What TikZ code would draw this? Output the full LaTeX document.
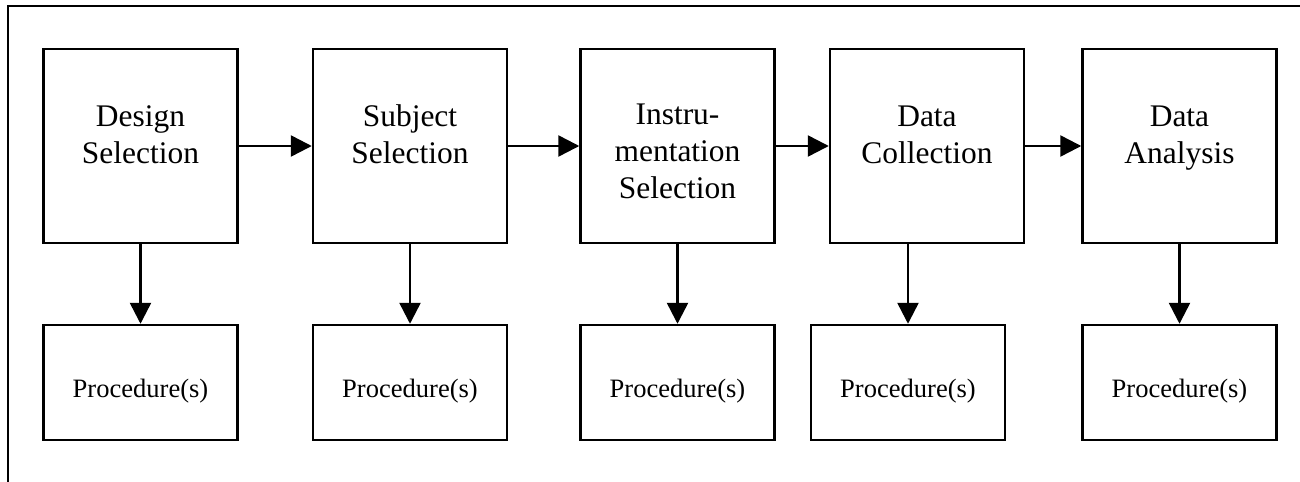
\documentclass[tikz,border=0pt]{standalone}
\usepackage{fontspec}
\setmainfont{Liberation Serif}
\usetikzlibrary{arrows.meta}

\begin{document}
\begin{tikzpicture}[
		stagebox/.style={draw, line width=1.4pt, minimum width=3.88cm, minimum height=3.88cm, inner sep=0pt},
		stagetext/.style={align=center, inner sep=0pt, anchor=base, font=\fontsize{17.9}{21}\selectfont},
		procbox/.style={draw, line width=1.4pt, minimum width=3.88cm, minimum height=2.3cm, inner sep=0pt,
			text height=0.58cm, text depth=0pt, font=\fontsize{15.1}{18}\selectfont},
		flow/.style={line width=1.4pt, -{Triangle[length=0.42cm,width=0.42cm]}}
	]
	\useasboundingbox (0,0) rectangle (26,-9.64);
	% frame (cut off right and below)
	\draw[line width=1.4pt] (0.16,-9.64) |- (26,-0.12);

	% stages
	\node[stagebox] (design) at (2.81,-2.92) {};
	\node[stagebox] (subject) at (8.2,-2.92) {};
	\node[stagebox] (instr) at (13.55,-2.92) {};
	\node[stagebox] (collect) at (18.54,-2.92) {};
	\node[stagebox] (analysis) at (23.59,-2.92) {};

	% base = last line of the text
	\node[stagetext] (designlbl) at ([yshift=-2.32cm]design.north) {Design\\Selection};
	\node[stagetext] (subjectlbl) at ([yshift=-2.32cm]subject.north) {Subject\\Selection};
	\node[stagetext] (instrlbl) at ([yshift=-3.02cm]instr.north) {Instru-\\mentation\\Selection};
	\node[stagetext] (collectlbl) at ([yshift=-2.32cm]collect.north) {Data\\Collection};
	\node[stagetext] (analysislbl) at ([yshift=-2.32cm]analysis.north) {Data\\Analysis};

	% procedures
	\node[procbox] (designproc) at (2.81,-7.65) {Procedure(s)};
	\node[procbox] (subjectproc) at (8.2,-7.65) {Procedure(s)};
	\node[procbox] (instrproc) at (13.55,-7.65) {Procedure(s)};
	\node[procbox] (collectproc) at (18.16,-7.65) {Procedure(s)};
	\node[procbox] (analysisproc) at (23.59,-7.65) {Procedure(s)};

	\draw[flow] (design) -- (subject);
	\draw[flow] (subject) -- (instr);
	\draw[flow] (instr) -- (collect);
	\draw[flow] (collect) -- (analysis);

	\draw[flow] (design.south -| designproc.north) -- (designproc.north);
	\draw[flow] (subject.south -| subjectproc.north) -- (subjectproc.north);
	\draw[flow] (instr.south -| instrproc.north) -- (instrproc.north);
	\draw[flow] (collect.south -| collectproc.north) -- (collectproc.north);
	\draw[flow] (analysis.south -| analysisproc.north) -- (analysisproc.north);
\end{tikzpicture}
\end{document}
